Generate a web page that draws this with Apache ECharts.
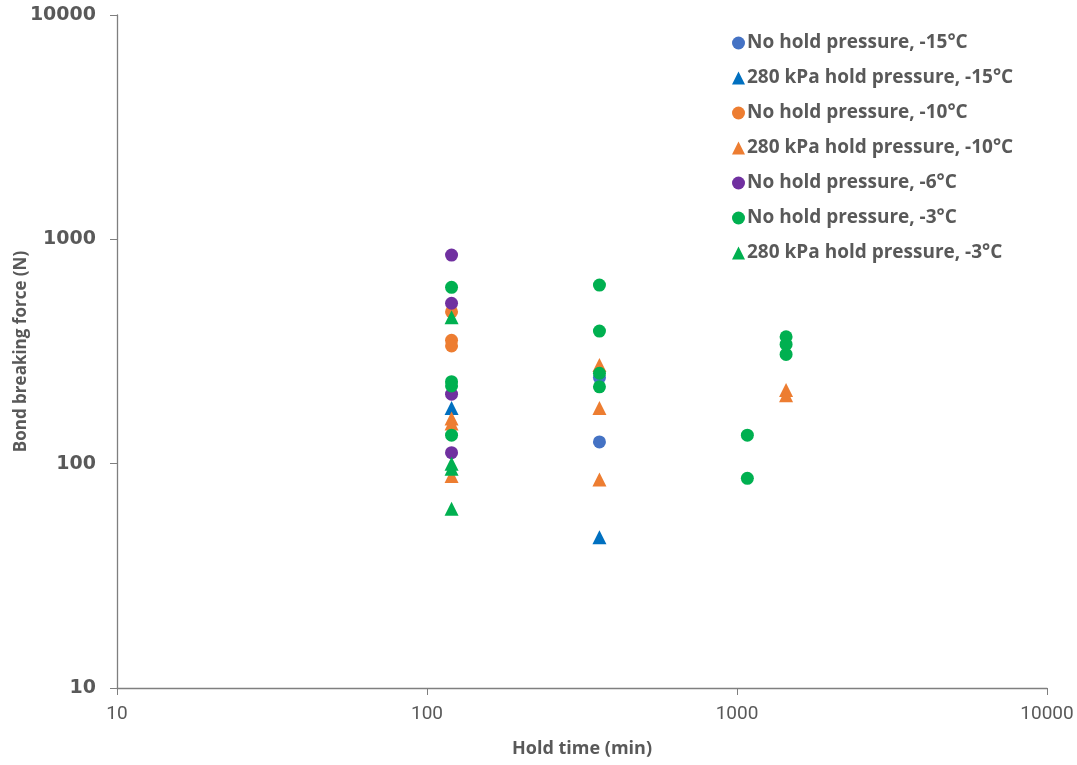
<!DOCTYPE html>
<html><head><meta charset="utf-8">
<script src="https://cdn.jsdelivr.net/npm/echarts@6/dist/echarts.min.js"></script>
<style>html,body{margin:0;padding:0;background:#fff}#c{width:1077px;height:765px}</style>
</head><body><div id="c"></div>
<script>
// [hold time (min), bond breaking force (N)]
const noHold15 = [[360, 242], [360, 125]];
const hold15 = [[120, 177], [360, 47]];
const noHold10 = [[120, 475], [120, 355], [120, 335]];
const hold10 = [[120, 159], [120, 151], [120, 88], [360, 275], [360, 177], [360, 85], [1440, 213], [1440, 202]];
const noHold6 = [[120, 851], [120, 519], [120, 204], [120, 112]];
const noHold3 = [[120, 611], [120, 232], [120, 222], [120, 134], [360, 625], [360, 390], [360, 253], [360, 220], [1080, 134], [1080, 86], [1440, 368], [1440, 340], [1440, 307]];
const hold3 = [[120, 449], [120, 100], [120, 95], [120, 63]];

const seriesDefs = [
  {name: 'No hold pressure, -15°C', data: noHold15, color: '#4472C4', symbol: 'circle'},
  {name: '280 kPa hold pressure, -15°C', data: hold15, color: '#0070C0', symbol: 'triangle'},
  {name: 'No hold pressure, -10°C', data: noHold10, color: '#ED7D31', symbol: 'circle'},
  {name: '280 kPa hold pressure, -10°C', data: hold10, color: '#ED7D31', symbol: 'triangle'},
  {name: 'No hold pressure, -6°C', data: noHold6, color: '#7030A0', symbol: 'circle'},
  {name: 'No hold pressure, -3°C', data: noHold3, color: '#00B050', symbol: 'circle'},
  {name: '280 kPa hold pressure, -3°C', data: hold3, color: '#00B050', symbol: 'triangle'}
];
const xTicks = [10, 100, 1000, 10000];
const yTicks = [10, 100, 1000, 10000];

const chart = echarts.init(document.getElementById('c'), null, {renderer: 'canvas'});
const axisColor = '#7f7f7f';
const textColor = '#595959';
chart.setOption({
  animation: false,
  backgroundColor: '#fff',
  grid: {left: 117, top: 15, right: 30, bottom: 77, containLabel: false, outerBoundsMode: 'none'},
  legend: {
    orient: 'vertical', left: 727, top: 28, itemGap: 15,
    itemWidth: 13, itemHeight: 13,
    textStyle: {fontFamily: 'Open Sans', fontWeight: 'bold', fontSize: 19, lineHeight: 20, color: textColor, padding: [0, 0, 0, -3]},
    data: seriesDefs.map(s => ({name: s.name, icon: s.symbol}))
  },
  xAxis: {
    type: 'log', logBase: 10, min: xTicks[0], max: xTicks[xTicks.length - 1],
    name: 'Hold time (min)', nameLocation: 'middle', nameGap: 52, nameMoveOverlap: false,
    nameTextStyle: {fontFamily: 'Open Sans', fontWeight: 'bold', fontSize: 18, color: textColor},
    axisLine: {lineStyle: {color: axisColor, width: 1.3}},
    axisTick: {show: true, length: 7, lineStyle: {color: axisColor}},
    minorTick: {show: false},
    splitLine: {show: false},
    axisLabel: {fontFamily: 'Roboto', fontSize: 19, fontWeight: 'normal', color: textColor, margin: 17,
      formatter: v => String(Math.round(v))}
  },
  yAxis: {
    type: 'log', logBase: 10, min: yTicks[0], max: yTicks[yTicks.length - 1],
    name: 'Bond breaking force (N)', nameLocation: 'middle', nameGap: 87, nameRotate: 90, nameMoveOverlap: false,
    nameTextStyle: {fontFamily: 'Open Sans', fontWeight: 'bold', fontSize: 17, color: textColor},
    axisLine: {show: true, lineStyle: {color: axisColor, width: 1.3}},
    axisTick: {show: true, length: 7, lineStyle: {color: axisColor}},
    splitLine: {show: false},
    axisLabel: {fontFamily: 'DejaVu Sans', fontSize: 19, fontWeight: 'bold', color: textColor, margin: 21,
      formatter: v => String(Math.round(v))}
  },
  series: seriesDefs.map(s => ({
    name: s.name, type: 'scatter', data: s.data, symbol: s.symbol,
    symbolSize: s.symbol === 'triangle' ? 14 : 13,
    itemStyle: {color: s.color, opacity: 1}
  }))
});
</script></body></html>
